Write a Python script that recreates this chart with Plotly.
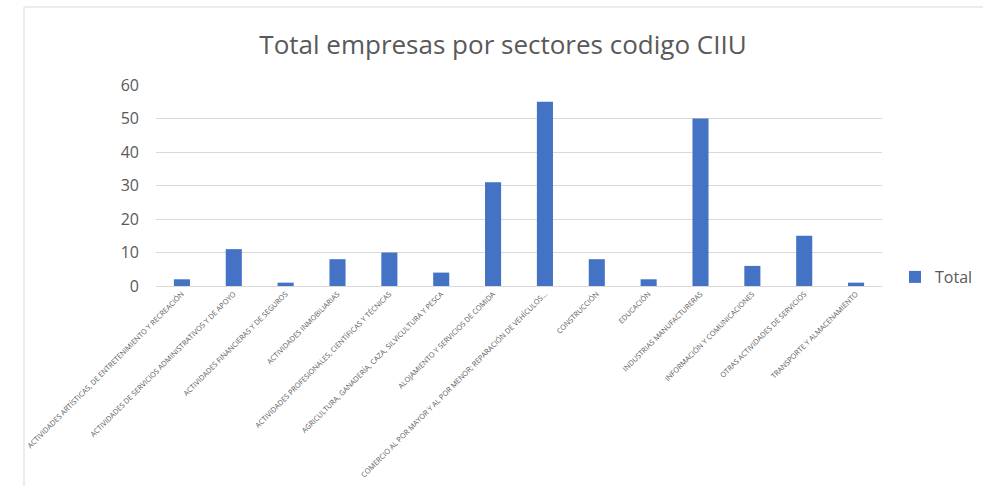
import plotly.graph_objects as go

categories = [
    "ACTIVIDADES ARTÍSTICAS, DE ENTRETENIMIENTO Y RECREACIÓN",
    "ACTIVIDADES DE SERVICIOS ADMINISTRATIVOS Y DE APOYO",
    "ACTIVIDADES FINANCIERAS Y DE SEGUROS",
    "ACTIVIDADES INMOBILIARIAS",
    "ACTIVIDADES PROFESIONALES, CIENTÍFICAS Y TÉCNICAS",
    "AGRICULTURA, GANADERÍA, CAZA, SILVICULTURA Y PESCA",
    "ALOJAMIENTO Y SERVICIOS DE COMIDA",
    "COMERCIO AL POR MAYOR Y AL POR MENOR; REPARACIÓN DE VEHÍCULOS...",
    "CONSTRUCCIÓN",
    "EDUCACIÓN",
    "INDUSTRIAS MANUFACTURERAS",
    "INFORMACIÓN Y COMUNICACIONES",
    "OTRAS ACTIVIDADES DE SERVICIOS",
    "TRANSPORTE Y ALMACENAMIENTO",
]
totals = [2, 11, 1, 8, 10, 4, 31, 55, 8, 2, 50, 6, 15, 1]
y_ticks = [0, 10, 20, 30, 40, 50, 60]

W, H = 983, 486
L, R, T, B = 156, 101, 85, 200
pw, ph = W - L - R, H - T - B

fig = go.Figure()
fig.add_trace(go.Bar(
    x=categories, y=totals, name="Total",
    marker=dict(color="#4472C4", line=dict(width=0)),
    showlegend=True,
))

fig.update_layout(
    width=W, height=H,
    margin=dict(l=L, r=R, t=T, b=B, autoexpand=False),
    paper_bgcolor="white", plot_bgcolor="white",
    bargap=0.69,
    title=dict(text="Total empresas por sectores codigo CIIU",
               x=503 / W, xref="container", xanchor="center",
               y=1 - 45 / H, yref="container", yanchor="middle",
               font=dict(family="Open Sans", size=26, color="#595959")),
    font=dict(family="Open Sans", color="#595959"),
    xaxis=dict(tickangle=-45, tickfont=dict(size=7.3, color="#595959"),
               showline=True, linecolor="#d9d9d9", linewidth=1,
               ticks="", automargin=False, showgrid=False),
    yaxis=dict(range=[0, 60], tickvals=y_ticks, tickfont=dict(size=16, color="#595959"),
               showgrid=True, gridcolor="#d9d9d9", gridwidth=1,
               zeroline=False, ticks="", ticklen=0, automargin=False,
               ticklabelstandoff=16),
    legend=dict(x=(895 - L) / pw, y=(H - B - 277) / ph, xanchor="left", yanchor="middle",
                font=dict(size=16, color="#595959"), bgcolor="rgba(0,0,0,0)",
                itemwidth=30),
    shapes=[dict(type="rect", xref="paper", yref="paper",
                 x0=(24 - L) / pw, x1=(W + 5 - L) / pw,
                 y0=(H - B - (H + 5)) / ph, y1=(H - B - 7) / ph,
                 line=dict(color="#d9d9d9", width=1), fillcolor="rgba(0,0,0,0)", layer="below")],
)

fig.write_html("out.html")
